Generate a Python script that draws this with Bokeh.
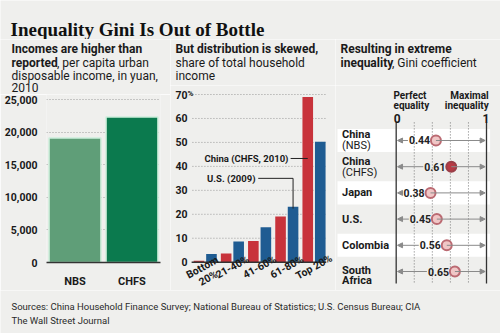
from bokeh.plotting import figure
from bokeh.layouts import column, row
from bokeh.models import (Range1d, FactorRange, FixedTicker, NumeralTickFormatter,
                          ColumnDataSource, Arrow, NormalHead)
from bokeh.core.properties import value
from bokeh.embed import file_html
from bokeh.resources import INLINE

# ---------------- data ----------------
income_sources = ["NBS", "CHFS"]
income_values = [19100, 22300]
income_ticks = [0, 5000, 10000, 15000, 20000, 25000]

quintiles = ["Bottom 20%", "21-40%", "41-60%", "61-80%", "Top 20%"]
quintile_labels = ["Bottom\n20%", "21-40%", "41-60%", "61-80%", "Top 20%"]
china_share = [0.6, 3.6, 8.9, 19.1, 69.0]
us_share = [3.4, 8.6, 14.6, 23.2, 50.3]
share_ticks = [0, 10, 20, 30, 40, 50, 60, 70]

gini_countries = ["China (NBS)", "China (CHFS)", "Japan", "U.S.", "Colombia", "South Africa"]
gini_main = ["China", "China", "Japan", "U.S.", "Colombia", "South"]
gini_sub = ["(NBS)", "(CHFS)", "", "", "", "Africa"]
gini_values = [0.44, 0.61, 0.38, 0.45, 0.56, 0.65]

# ---------------- style ----------------
BG = "#efefed"
FONT = "Roboto"
SERIF = "Liberation Serif"
DARK = "#1a1a1a"
GREEN_L = "#5f9e78"
GREEN_D = "#0b7a4e"
RED = "#c8333b"
BLUE = "#1f5c92"
GRID = "#9a9a9a"
ARROW = "#8a8a8a"


def base(width, height, x_range, y_range, **kw):
    p = figure(width=width, height=height, x_range=x_range, y_range=y_range,
               output_backend="svg", toolbar_location=None, title=None, **kw)
    p.background_fill_color = BG
    p.border_fill_color = BG
    p.outline_line_color = None
    p.min_border = 0
    try:
        p.frame_align = False
    except AttributeError:
        pass
    return p


def blank(width, x0, x1, y_top, y_bottom):
    p = base(width, y_bottom - y_top, Range1d(x0, x1), Range1d(y_bottom, y_top),
             x_axis_location=None, y_axis_location=None)
    p.grid.visible = False
    return p


def txt(p, x, y, s, size, bold=False, font=FONT, align="left", baseline="alphabetic",
        color=DARK, angle=0):
    p.text(x=[x], y=[y], text=[s], text_font=value(font), text_font_size=f"{size}px",
           text_font_style="bold" if bold else "normal", text_align=align,
           text_baseline=baseline, text_color=color, angle=angle)


# ---------------- title + subtitles ----------------
TOP = 39
t = blank(500, 0, 500, 0, TOP)
txt(t, 10, 28.5, "Inequality Gini Is Out of Bottle", 19, bold=True, font=SERIF, color="#111")

h1 = blank(170, 0, 170, TOP, 94)
txt(h1, 11, 48, "Incomes are higher than", 12, bold=True)
txt(h1, 11, 62, "reported", 12, bold=True)
txt(h1, 56.5, 62, ", per capita urban", 12)
txt(h1, 11, 75.3, "disposable income, in yuan,", 12)
txt(h1, 11, 87, "2010", 12)

h2 = blank(165, 170, 335, TOP, 85)
txt(h2, 175, 48, "But distribution is skewed,", 12, bold=True)
txt(h2, 175, 62, "share of total household", 12)
txt(h2, 175, 75.3, "income", 12)

h3 = blank(165, 335, 500, TOP, 85)
txt(h3, 340, 48, "Resulting in extreme", 12, bold=True)
txt(h3, 340, 62, "inequality", 12, bold=True)
txt(h3, 391.5, 62, ", Gini coefficient", 12)

# ---------------- panel 1: incomes ----------------
p1 = base(170, 196, FactorRange(*income_sources), Range1d(0, 25767))
p1.min_border_left = 46
p1.min_border_right = 10
p1.min_border_top = 0
p1.min_border_bottom = 28
p1.vbar(x=income_sources, top=income_values, width=0.91,
        fill_color=[GREEN_L, GREEN_D], line_color="#cdeedb", line_width=1.5)
p1.yaxis.ticker = FixedTicker(ticks=income_ticks)
p1.yaxis.formatter = NumeralTickFormatter(format="0,0")
for ax in (p1.yaxis[0], p1.xaxis[0]):
    ax.major_tick_line_color = None
    ax.minor_tick_line_color = None
    ax.major_label_text_font = FONT
    ax.major_label_text_font_style = "bold"
    ax.major_label_text_font_size = "10.5px"
    ax.major_label_text_color = DARK
p1.xaxis.major_label_text_font_size = "11px"
p1.yaxis.axis_line_color = None
p1.yaxis.major_label_standoff = 3
p1.xaxis.axis_line_color = "#333333"
p1.xaxis.axis_line_width = 1.5
p1.xaxis.major_label_standoff = 6
p1.xgrid.visible = False
p1.ygrid.grid_line_color = GRID
p1.ygrid.grid_line_dash = "1 2"

# ---------------- panel 2: shares ----------------
OFF = 0.23
centers = [i + 0.5 for i in range(len(quintiles))]
src2 = ColumnDataSource(dict(xc=[c - OFF for c in centers], xu=[c + OFF for c in centers],
                             china=china_share, us=us_share))
p2 = base(165, 205, Range1d(-0.776, 5.29), Range1d(-11.81, 73.76),
          x_axis_location=None, y_axis_location=None)
p2.grid.visible = False
grid_end = len(quintiles) - 0.05
p2.segment(x0=0.03, y0=share_ticks[1:], x1=grid_end, y1=share_ticks[1:],
           line_color=GRID, line_dash="1 2", line_width=1)
p2.vbar(x="xc", top="china", width=0.39, source=src2, fill_color=RED, line_color=None)
p2.vbar(x="xu", top="us", width=0.39, source=src2, fill_color=BLUE, line_color=None)
p2.segment(x0=0, y0=0, x1=grid_end, y1=0, line_color="#333333", line_width=1.5)
p2.text(x=-0.15, y=share_ticks, text=[str(v) for v in share_ticks], text_align="right",
        text_baseline="middle", text_font=value(FONT), text_font_size="10.5px",
        text_font_style="bold", text_color=DARK)
txt(p2, -0.15, share_ticks[-1] + 0.3, "%", 8, bold=True, baseline="middle")
p2.text(x=centers, y=[-4.4 if "\n" in s else -2.0 for s in quintile_labels],
        text=quintile_labels, angle=0.5, text_align="center", text_baseline="middle",
        text_font=value(FONT), text_font_size="10.5px", text_font_style="bold",
        text_color=DARK, text_line_height=0.95)

# annotations
top_x = centers[quintiles.index("Top 20%")] - OFF
q4_x = centers[quintiles.index("61-80%")] + OFF
china_y = 43.3
us_y = 35.0
p2.line(x=[3.64, top_x], y=[china_y, china_y], line_color="#222222", line_width=1)
p2.line(x=[2.45, q4_x, q4_x], y=[us_y, us_y, us_share[3] - 0.8], line_color="#222222",
        line_width=1)
txt(p2, 3.56, china_y, "China (CHFS, 2010)", 9.5, bold=True, align="right", baseline="middle")
txt(p2, 2.35, us_y, "U.S. (2009)", 9.5, bold=True, align="right", baseline="middle")

# ---------------- panel 3: gini ----------------
rows = list(range(len(gini_countries)))
p3 = base(165, 205, Range1d(-0.672, 1.155), Range1d(5.725, -2.099),
          x_axis_location=None, y_axis_location=None)
p3.grid.visible = False
band_rows = [r for r in rows if r % 2 == 0]
p3.hbar(y=band_rows, left=-0.65, right=1.04, height=0.88, fill_color="white", line_color=None)
p3.segment(x0=[0.2, 0.4, 0.6, 0.8], y0=-0.69, x1=[0.2, 0.4, 0.6, 0.8], y1=5.46,
           line_color="#777777", line_dash="1 2", line_width=1)
p3.segment(x0=[0, 1], y0=-0.69, x1=[0, 1], y1=5.46, line_color="#333333", line_width=1.3)

txt(p3, -0.03, -1.72, "Perfect", 10, bold=True)
txt(p3, -0.03, -1.35, "equality", 10, bold=True)
txt(p3, 1.025, -1.72, "Maximal", 10, bold=True, align="right")
txt(p3, 1.025, -1.35, "inequality", 10, bold=True, align="right")
txt(p3, 0.01, -0.84, "0", 12, bold=True, align="center")
txt(p3, 0.995, -0.84, "1", 12, bold=True, align="center")

n = len(rows)
right_src = ColumnDataSource(dict(x0=gini_values, x1=[0.985] * n, y=rows))
left_src = ColumnDataSource(dict(x0=[v - 0.31 for v in gini_values], x1=[0.015] * n, y=rows))
for s in (right_src, left_src):
    p3.add_layout(Arrow(end=NormalHead(size=5, fill_color=ARROW, line_color=ARROW),
                        x_start="x0", y_start="y", x_end="x1", y_end="y", source=s,
                        line_color=ARROW, line_width=1))

p3.text(x=[v - 0.065 for v in gini_values], y=rows, text=[f"{v:.2f}" for v in gini_values],
        text_align="right", text_baseline="middle", text_font=value(FONT),
        text_font_size="10.5px", text_font_style="bold", text_color="#222222")
fills = ["#b83a44" if c == "China (CHFS)" else "#f0c6c6" for c in gini_countries]
rings = ["#9a3f48" if c == "China (CHFS)" else "#bb6a72" for c in gini_countries]
p3.scatter(x=gini_values, y=rows, marker="circle", size=10, fill_color=fills,
           line_color=rings, line_width=2)

# country labels
main_y, sub_y = [], []
for r, sub in zip(rows, gini_sub):
    if sub == "Africa":
        main_y.append(r - 0.05)
        sub_y.append(r + 0.36)
    elif sub:
        main_y.append(r - 0.21)
        sub_y.append(r + 0.21)
    else:
        main_y.append(r)
        sub_y.append(r)
p3.text(x=-0.6, y=main_y, text=gini_main, text_align="left", text_baseline="middle",
        text_font=value(FONT), text_font_size="11px", text_font_style="bold", text_color=DARK)
sub_bold = [s == "Africa" for s in gini_sub]
p3.text(x=-0.6, y=[y for y, b, s in zip(sub_y, sub_bold, gini_sub) if s and not b],
        text=[s for s, b in zip(gini_sub, sub_bold) if s and not b],
        text_align="left", text_baseline="middle", text_font=value(FONT),
        text_font_size="11px", text_color=DARK)
p3.text(x=-0.6, y=[y for y, b in zip(sub_y, sub_bold) if b],
        text=[s for s, b in zip(gini_sub, sub_bold) if b],
        text_align="left", text_baseline="middle", text_font=value(FONT),
        text_font_size="11px", text_font_style="bold", text_color=DARK)

# ---------------- footer ----------------
f = blank(500, 0, 500, 0, 43)
txt(f, 11, 16, "Sources: China Household Finance Survey; National Bureau of Statistics; "
    "U.S. Census Bureau; CIA", 9.5, color="#2a2a2a")
txt(f, 11, 29.5, "The Wall Street Journal", 9.5, color="#2a2a2a")

layout = column(
    t,
    row(column(h1, p1, spacing=0), column(h2, p2, spacing=0), column(h3, p3, spacing=0),
        spacing=0),
    f,
    spacing=0,
)
open("out.html", "w").write(file_html(layout, INLINE))
